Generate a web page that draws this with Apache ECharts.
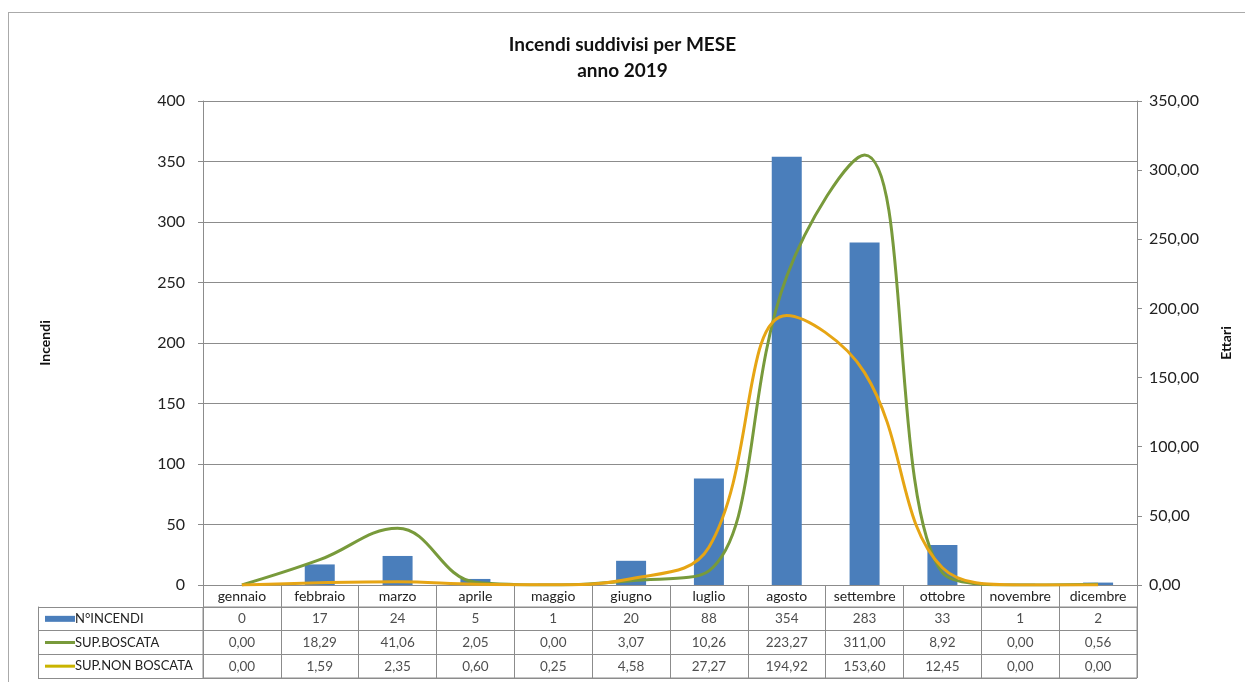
<!DOCTYPE html>
<html>
<head>
<meta charset="utf-8">
<script src="https://cdn.jsdelivr.net/npm/echarts@6/dist/echarts.min.js"></script>
<style>
  html, body { margin: 0; padding: 0; background: #fff; }
  #frame { position: absolute; left: 8px; top: 12px; width: 1240px; height: 680px; border: 1px solid #aaa; box-sizing: border-box; }
  #chart { position: absolute; left: 0; top: 0; width: 1245px; height: 682px; }
</style>
</head>
<body>
<div id="frame"></div>
<div id="chart"></div>
<script>
const mesi = ['gennaio', 'febbraio', 'marzo', 'aprile', 'maggio', 'giugno', 'luglio', 'agosto', 'settembre', 'ottobre', 'novembre', 'dicembre'];
const nIncendi = [0, 17, 24, 5, 1, 20, 88, 354, 283, 33, 1, 2];
const supBoscata = [0.00, 18.29, 41.06, 2.05, 0.00, 3.07, 10.26, 223.27, 311.00, 8.92, 0.00, 0.56];
const supNonBoscata = [0.00, 1.59, 2.35, 0.60, 0.25, 4.58, 27.27, 194.92, 153.60, 12.45, 0.00, 0.00];
const righe = ['N°INCENDI', 'SUP.BOSCATA', 'SUP.NON BOSCATA'];

const BLU = '#4a7ebb';
const VERDE = '#789a3b';
const GIALLO = '#e6a514';
const GRIGIO = '#8c8c8c';
const FONT = 'Lato, "Liberation Sans", sans-serif';

const fmt = v => v.toFixed(2).replace('.', ',');

// celle della tabella dati sotto il grafico
const celle = [];
mesi.forEach((m, i) => {
  celle.push([i, 0, String(nIncendi[i])]);
  celle.push([i, 1, fmt(supBoscata[i])]);
  celle.push([i, 2, fmt(supNonBoscata[i])]);
});

const chart = echarts.init(document.getElementById('chart'));
chart.setOption({
  animation: false,
  textStyle: { fontFamily: FONT, color: '#222' },
  title: {
    text: 'Incendi suddivisi per MESE\nanno 2019',
    left: 'center',
    top: 27,
    textStyle: { fontSize: 19, fontWeight: 'bold', lineHeight: 26, color: '#111', fontFamily: FONT }
  },
  grid: [
    { left: 203, right: 108, top: 101, bottom: 97 },
    { left: 203, right: 108, top: 607, bottom: 4, show: true, borderColor: GRIGIO, borderWidth: 1 }
  ],
  xAxis: [
    {
      type: 'category', gridIndex: 0, data: mesi, boundaryGap: true,
      axisLine: { lineStyle: { color: GRIGIO } },
      axisTick: { show: true, alignWithLabel: false, length: 22, lineStyle: { color: GRIGIO } },
      axisLabel: { margin: 4, fontSize: 14, color: '#222', interval: 0 }
    },
    {
      type: 'category', gridIndex: 1, data: mesi, boundaryGap: true,
      axisLine: { show: false }, axisTick: { show: false }, axisLabel: { show: false },
      splitLine: { show: true, lineStyle: { color: GRIGIO } }
    }
  ],
  yAxis: [
    {
      type: 'value', gridIndex: 0, min: 0, max: 400, interval: 50,
      name: 'Incendi', nameLocation: 'middle', nameGap: 151, nameRotate: 90,
      nameTextStyle: { fontSize: 14, fontWeight: 'bold', color: '#111' },
      axisLine: { show: true, lineStyle: { color: GRIGIO } },
      axisTick: { show: true, length: 5, lineStyle: { color: GRIGIO } },
      axisLabel: { fontSize: 16, color: '#222', margin: 18 },
      splitLine: { lineStyle: { color: GRIGIO } }
    },
    {
      type: 'value', gridIndex: 0, min: 0, max: 350, interval: 50, position: 'right',
      name: 'Ettari', nameLocation: 'middle', nameGap: 82, nameRotate: 90,
      nameTextStyle: { fontSize: 14, fontWeight: 'bold', color: '#111' },
      axisLine: { show: true, lineStyle: { color: GRIGIO } },
      axisTick: { show: true, length: 5, lineStyle: { color: GRIGIO } },
      axisLabel: { fontSize: 16, color: '#222', margin: 12, formatter: v => fmt(v) },
      splitLine: { show: false }
    },
    {
      type: 'category', gridIndex: 1, data: righe, inverse: true,
      axisLine: { show: true, lineStyle: { color: GRIGIO } },
      axisTick: { show: true, alignWithLabel: false, length: 165, lineStyle: { color: GRIGIO } },
      splitLine: { show: true, lineStyle: { color: GRIGIO } },
      axisLabel: {
        margin: 158, align: 'left', fontSize: 13, color: '#222',
        formatter: (v, i) => ['{bar|}', '{verde|}', '{giallo|}'][i] + '{t|' + v + '}',
        rich: {
          bar: { width: 30, height: 6, backgroundColor: BLU },
          verde: { width: 30, height: 3, backgroundColor: VERDE },
          giallo: { width: 30, height: 3, backgroundColor: '#c9b400' },
          t: { fontSize: 13, color: '#222', fontFamily: FONT }
        }
      }
    },
    {
      type: 'category', gridIndex: 1, data: righe, inverse: true, position: 'left', offset: 165,
      axisLine: { show: true, lineStyle: { color: GRIGIO } },
      axisTick: { show: false }, axisLabel: { show: false }, splitLine: { show: false }
    }
  ],
  series: [
    {
      name: 'N°INCENDI', type: 'bar', xAxisIndex: 0, yAxisIndex: 0,
      data: nIncendi, barWidth: 30, itemStyle: { color: BLU }
    },
    {
      name: 'SUP.BOSCATA', type: 'line', xAxisIndex: 0, yAxisIndex: 1,
      data: supBoscata, smooth: 0.4, symbol: 'none',
      lineStyle: { color: VERDE, width: 3 }
    },
    {
      name: 'SUP.NON BOSCATA', type: 'line', xAxisIndex: 0, yAxisIndex: 1,
      data: supNonBoscata, smooth: 0.4, symbol: 'none',
      lineStyle: { color: GIALLO, width: 3 }
    },
    {
      type: 'scatter', xAxisIndex: 1, yAxisIndex: 2,
      data: celle, symbolSize: 1, itemStyle: { color: 'rgba(0,0,0,0)' },
      label: { show: true, position: 'inside', fontSize: 13.5, color: '#222', formatter: p => p.value[2] }
    }
  ]
});
</script>
</body>
</html>
